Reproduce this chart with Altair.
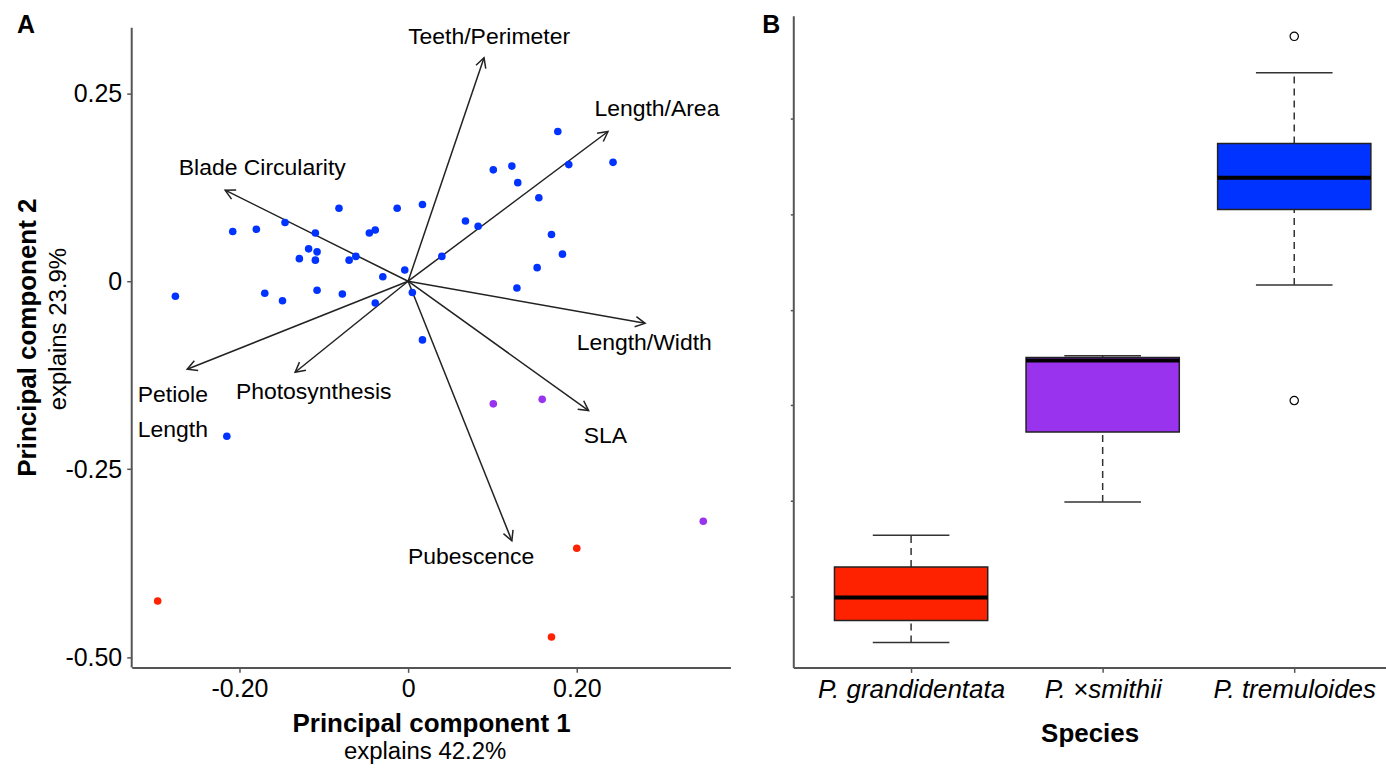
import math
import altair as alt
import pandas as pd

FONT = "Liberation Sans"

# ---------------- data ----------------
SPECIES = ["P. grandidentata", "P. ×smithii", "P. tremuloides"]
COLORS = ["#ff2200", "#9933ee", "#0033ff"]

# PCA scores
tremuloides_pc1 = [0.1775, 0.243, 0.1905, 0.101, 0.123, 0.130, 0.155, 0.017, -0.013, -0.082,
                   0.068, 0.083, -0.208, -0.180, -0.146, -0.110, -0.039, -0.046, 0.170, -0.118,
                   -0.108, -0.129, -0.110, -0.062, -0.070, 0.040, -0.030, -0.004, 0.183, 0.153,
                   -0.276, -0.170, -0.149, -0.108, -0.078, -0.039, 0.005, 0.129, 0.017, -0.215]
tremuloides_pc2 = [0.199, 0.158, 0.155, 0.148, 0.153, 0.131, 0.111, 0.102, 0.097, 0.097,
                   0.080, 0.073, 0.066, 0.069, 0.078, 0.064, 0.068, 0.064, 0.062, 0.043,
                   0.039, 0.030, 0.028, 0.033, 0.028, 0.033, 0.006, 0.015, 0.036, 0.018,
                   -0.020, -0.016, -0.026, -0.012, -0.017, -0.029, -0.015, -0.009, -0.078, -0.206]
smithii_pc1 = [0.101, 0.159, 0.350]
smithii_pc2 = [-0.163, -0.157, -0.319]
grandidentata_pc1 = [0.200, -0.297, 0.170]
grandidentata_pc2 = [-0.355, -0.425, -0.473]

# loadings (arrow tips)
traits = ["Teeth/Perimeter", "Length/Area", "Blade Circularity", "Length/Width",
          "SLA", "Pubescence", "Petiole Length", "Photosynthesis"]
load_pc1 = [0.090, 0.237, -0.217, 0.281, 0.214, 0.123, -0.262, -0.134]
load_pc2 = [0.297, 0.199, 0.121, -0.056, -0.172, -0.345, -0.117, -0.121]
label_text = ["Teeth/Perimeter", "Length/Area", "Blade Circularity", "Length/Width",
              "SLA", "Pubescence", "Petiole\nLength", "Photosynthesis"]
label_pc1 = [0.096, 0.295, -0.173, 0.280, 0.234, 0.0746, -0.279, -0.112]
label_pc2 = [0.325, 0.229, 0.151, -0.082, -0.2056, -0.367, -0.151, -0.147]

# boxplot statistics (panel B, arbitrary units)
whisker_lo = [0.52, 1.99, 4.26]
box_q1 = [0.75, 2.72, 5.05]
box_median = [0.99, 3.47, 5.38]
box_q3 = [1.31, 3.50, 5.74]
whisker_hi = [1.64, 3.52, 6.48]
outlier_species = ["P. tremuloides", "P. tremuloides"]
outlier_values = [6.86, 3.05]

# ---------------- panel A ----------------
WA, HA = 600, 653
XDOM = [-0.3278, 0.3822]
YDOM = [-0.5133, 0.3528]
px_x = WA / (XDOM[1] - XDOM[0])
px_y = HA / (YDOM[1] - YDOM[0])

pts = pd.DataFrame({
    "pc1": tremuloides_pc1 + smithii_pc1 + grandidentata_pc1,
    "pc2": tremuloides_pc2 + smithii_pc2 + grandidentata_pc2,
    "species": [SPECIES[2]] * len(tremuloides_pc1) + [SPECIES[1]] * len(smithii_pc1)
               + [SPECIES[0]] * len(grandidentata_pc1),
})

load = pd.DataFrame({"trait": traits, "pc1": load_pc1, "pc2": load_pc2})
load["ox"] = 0.0
load["oy"] = 0.0
load["angle"] = [
    (math.degrees(math.atan2(px_x * a, px_y * b)) + 360) % 360
    for a, b in zip(load_pc1, load_pc2)
]
labs = pd.DataFrame({"text": label_text, "pc1": label_pc1, "pc2": label_pc2})

LABEL_EXPR = ("datum.value == 0 ? '0' : (datum.value < 0 ? '-' + format(-datum.value, '.2f') "
              ": format(datum.value, '.2f'))")
SX = alt.Scale(domain=XDOM, nice=False, zero=False)
SY = alt.Scale(domain=YDOM, nice=False, zero=False)
AX = alt.Axis(
    values=[-0.2, 0, 0.2], labelExpr=LABEL_EXPR,
    title="Principal component 1", titleFontSize=26, titleFontWeight="bold",
    titlePadding=9, labelFontSize=25, labelPadding=4, tickSize=5, grid=False,
)
AY = alt.Axis(
    values=[-0.5, -0.25, 0, 0.25], labelExpr=LABEL_EXPR,
    title="Principal component 2", titleFontSize=26, titleFontWeight="bold",
    titleAngle=270, titleX=-104, titleY=322, titleAlign="center", titleBaseline="middle",
    labelFontSize=25, labelPadding=5, tickSize=5, grid=False, domain=False,
)


def xa(f):
    return alt.X(f, type="quantitative", scale=SX, axis=AX)


def ya(f):
    return alt.Y(f, type="quantitative", scale=SY, axis=AY)


yline = alt.Chart(pd.DataFrame({"x": [XDOM[0]], "y": [YDOM[0]], "y2": [0.337]})).mark_rule(
    color="#555", strokeWidth=2
).encode(x=xa("x"), y=ya("y"), y2="y2:Q")

arrows = alt.Chart(load).mark_rule(color="#222", strokeWidth=1.5).encode(
    x=xa("ox"), y=ya("oy"), x2="pc1:Q", y2="pc2:Q"
)
heads = alt.Chart(load).mark_point(
    shape="M-0.53,1L0,0L0.53,1", filled=False, size=380, strokeWidth=1.5,
    color="#222", opacity=1
).encode(x=xa("pc1"), y=ya("pc2"), angle=alt.Angle("angle:Q", scale=None))

dots = alt.Chart(pts).mark_circle(size=58, opacity=1).encode(
    x=xa("pc1"), y=ya("pc2"),
    color=alt.Color("species:N", scale=alt.Scale(domain=SPECIES, range=COLORS), legend=None),
)
texts = alt.Chart(labs).mark_text(
    font=FONT, fontSize=23, align="center", baseline="middle", lineBreak="\n", lineHeight=35,
    color="black"
).encode(x=xa("pc1"), y=ya("pc2"), text="text:N")

tagA = alt.Chart(pd.DataFrame({"t": ["A"]})).mark_text(
    font=FONT, fontSize=25, fontWeight="bold", align="center", baseline="middle", color="black"
).encode(x=alt.value(-106), y=alt.value(9), text="t:N")
subx = alt.Chart(pd.DataFrame({"t": ["explains 42.2%"]})).mark_text(
    font=FONT, fontSize=24, align="center", baseline="middle", color="black"
).encode(x=alt.value(WA / 2 - 6), y=alt.value(738), text="t:N")
suby = alt.Chart(pd.DataFrame({"t": ["explains 23.9%"]})).mark_text(
    font=FONT, fontSize=24, align="center", baseline="middle", angle=270, color="black"
).encode(x=alt.value(-73), y=alt.value(314), text="t:N")

panelA = alt.layer(yline, arrows, heads, dots, texts, tagA, subx, suby).properties(
    width=WA, height=HA
)

# ---------------- panel B ----------------
WB, HB = 594, 653
BXDOM = [0.385, 3.479]
BYDOM = [0.259, 7.075]
idx = [i + 1 for i in range(len(SPECIES))]
box = pd.DataFrame({
    "species": SPECIES, "xi": idx,
    "xl": [i - 0.4 for i in idx], "xr": [i + 0.4 for i in idx],
    "cl": [i - 0.2 for i in idx], "cr": [i + 0.2 for i in idx],
    "wlo": whisker_lo, "q1": box_q1, "median": box_median, "q3": box_q3, "whi": whisker_hi,
})
outl = pd.DataFrame({
    "xi": [SPECIES.index(s) + 1 for s in outlier_species], "val": outlier_values
})

names_js = "[" + ",".join("'" + s + "'" for s in SPECIES) + "]"
SBX = alt.Scale(domain=BXDOM, nice=False, zero=False)
SBY = alt.Scale(domain=BYDOM, nice=False, zero=False)
ABX = alt.Axis(
    values=idx, labelExpr=names_js + "[round(datum.value) - 1]",
    labelFontStyle="italic", labelFontSize=26, labelPadding=4, tickSize=5,
    labelLimit=400, labelOverlap=False,
    title="Species", titleFontSize=26, titleFontWeight="bold", titlePadding=18, grid=False,
)
ABY = alt.Axis(values=[1, 2, 3, 4, 5, 6], labels=False, tickSize=3, title=None, grid=False)


def xb(f):
    return alt.X(f, type="quantitative", scale=SBX, axis=ABX)


def yb(f):
    return alt.Y(f, type="quantitative", scale=SBY, axis=ABY)


wup = alt.Chart(box).mark_rule(color="#333", strokeWidth=1.5, strokeDash=[7, 5]).encode(
    x=xb("xi"), y=yb("q3"), y2="whi:Q"
)
wdn = alt.Chart(box).mark_rule(color="#333", strokeWidth=1.5, strokeDash=[7, 5]).encode(
    x=xb("xi"), y=yb("wlo"), y2="q1:Q"
)
cap_hi = alt.Chart(box).mark_rule(color="#333", strokeWidth=1.5).encode(
    x=xb("cl"), x2="cr:Q", y=yb("whi")
)
cap_lo = alt.Chart(box).mark_rule(color="#333", strokeWidth=1.5).encode(
    x=xb("cl"), x2="cr:Q", y=yb("wlo")
)
bars = alt.Chart(box).mark_bar(stroke="#222", strokeWidth=1.5, opacity=1).encode(
    x=xb("xl"), x2="xr:Q", y=yb("q1"), y2="q3:Q",
    color=alt.Color("species:N", scale=alt.Scale(domain=SPECIES, range=COLORS), legend=None),
)
meds = alt.Chart(box).mark_rule(color="black", strokeWidth=4).encode(
    x=xb("xl"), x2="xr:Q", y=yb("median")
)
outs = alt.Chart(outl).mark_point(
    shape="circle", filled=False, size=70, color="black", strokeWidth=1.2, opacity=1
).encode(x=xb("xi"), y=yb("val"))
tagB = alt.Chart(pd.DataFrame({"t": ["B"]})).mark_text(
    font=FONT, fontSize=25, fontWeight="bold", align="center", baseline="middle", color="black"
).encode(x=alt.value(-22), y=alt.value(9), text="t:N")

panelB = alt.layer(wup, wdn, cap_hi, cap_lo, bars, meds, outs, tagB).properties(
    width=WB, height=HB
)

chart = alt.hconcat(panelA, panelB, spacing=31).properties(
    padding={"left": 15, "top": 12, "right": 0, "bottom": 0},
    background="white",
).configure_view(stroke=None).configure_axis(
    domainColor="#555", domainWidth=2, tickColor="#555", tickWidth=1.5,
    labelColor="black", titleColor="black", labelFont=FONT, titleFont=FONT,
).configure_text(font=FONT)

chart.save("out.html", embed_options={"renderer": "svg", "actions": False})
